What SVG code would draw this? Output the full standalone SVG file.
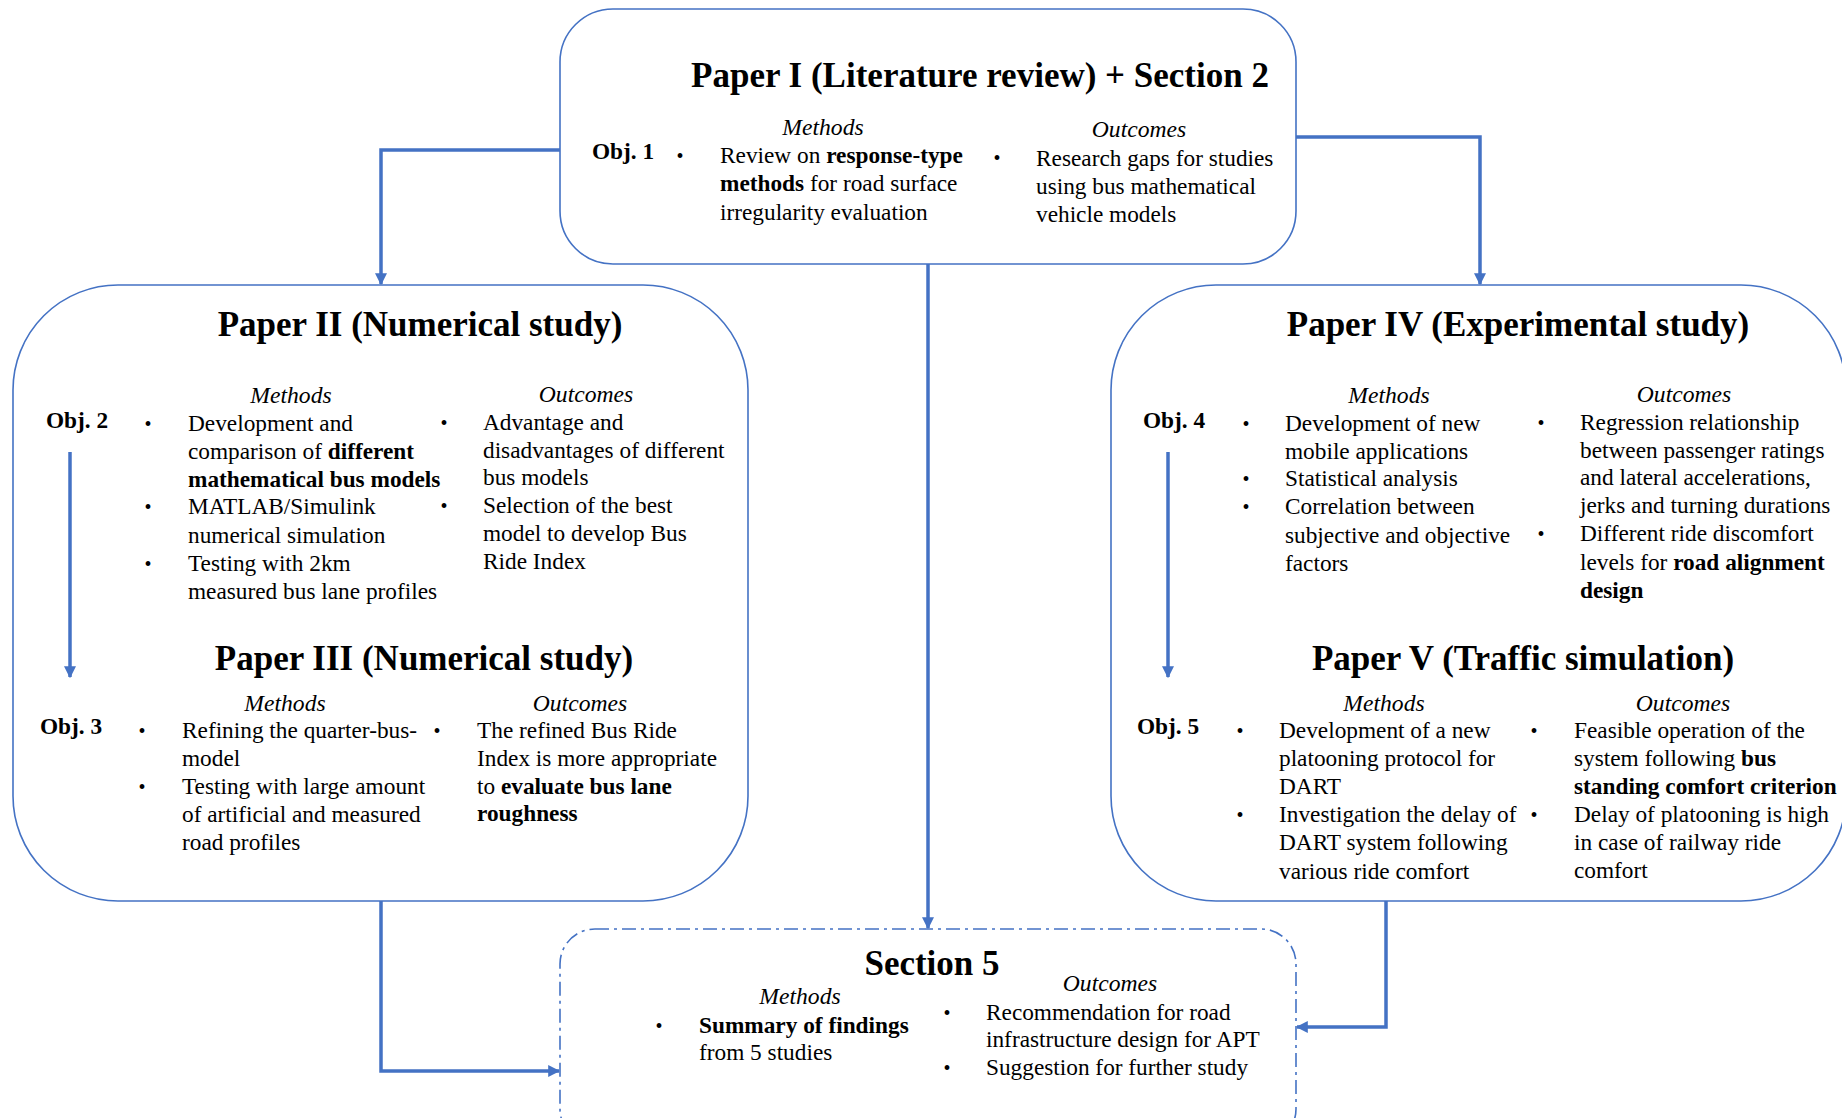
<svg xmlns="http://www.w3.org/2000/svg" width="1842" height="1118" viewBox="0 0 1842 1118">
<style>
.box{fill:#fff;stroke:#4472C4;stroke-width:1.6}
.dash{stroke-dasharray:14 5 3 5}
.c{fill:none;stroke:#4472C4;stroke-width:3.5}
text{font-family:"Liberation Serif","Times New Roman",serif;fill:#000}
.t{font-size:35px;font-weight:bold;text-anchor:middle}
.h{font-size:23.6px;font-style:italic;text-anchor:middle}
.o{font-size:23.3px;font-weight:bold}
.b{font-size:23.3px}
.bu{font-size:20px;text-anchor:middle}
.s{font-weight:bold}
</style>
<defs>
<marker id="ah" viewBox="0 0 10 10" refX="9" refY="5" markerWidth="12" markerHeight="12" markerUnits="userSpaceOnUse" orient="auto">
<path d="M0,0 L10,5 L0,10 z" fill="#4472C4"/>
</marker>
</defs>
<g id="connectors">
<path class="c" d="M560,150 H381 V284" marker-end="url(#ah)"/>
<path class="c" d="M1296,137 H1480 V284" marker-end="url(#ah)"/>
<path class="c" d="M928,264 V928" marker-end="url(#ah)"/>
<path class="c" d="M381,901 V1071 H559" marker-end="url(#ah)"/>
<path class="c" d="M1386,901 V1027 H1297" marker-end="url(#ah)"/>
</g>
<g id="paper1">
<rect class="box" x="560" y="9" width="736" height="255" rx="53"/>
<text class="t" x="980" y="87">Paper I (Literature review) + Section 2</text>
<text class="h" x="823" y="135">Methods</text>
<text class="h" x="1139" y="137">Outcomes</text>
<text class="o" x="592" y="159">Obj. 1</text>
<text class="bu" x="680" y="163">•</text>
<text class="b" x="720" y="163">Review on <tspan class="s">response-type</tspan></text>
<text class="b" x="720" y="191"><tspan class="s">methods</tspan> for road surface</text>
<text class="b" x="720" y="220">irregularity  evaluation</text>
<text class="bu" x="997" y="165">•</text>
<text class="b" x="1036" y="166">Research gaps for studies</text>
<text class="b" x="1036" y="194">using bus mathematical</text>
<text class="b" x="1036" y="222">vehicle models</text>
</g>
<g id="paper2-3">
<rect class="box" x="13" y="285" width="735" height="616" rx="105"/>
<text class="t" x="420" y="336">Paper II (Numerical study)</text>
<text class="h" x="291" y="403">Methods</text>
<text class="h" x="586" y="402">Outcomes</text>
<text class="o" x="46" y="428">Obj. 2</text>
<text class="bu" x="148" y="431">•</text>
<text class="bu" x="148" y="514">•</text>
<text class="bu" x="148" y="571">•</text>
<text class="b" x="188" y="431">Development and</text>
<text class="b" x="188" y="459">comparison of <tspan class="s">different</tspan></text>
<text class="b s" x="188" y="487">mathematical bus models</text>
<text class="b" x="188" y="514">MATLAB/Simulink</text>
<text class="b" x="188" y="543">numerical simulation</text>
<text class="b" x="188" y="571">Testing  with 2km</text>
<text class="b" x="188" y="599">measured bus lane profiles</text>
<text class="bu" x="444" y="430">•</text>
<text class="bu" x="444" y="513">•</text>
<text class="b" x="483" y="430">Advantage and</text>
<text class="b" x="483" y="458">disadvantages of different</text>
<text class="b" x="483" y="485">bus models</text>
<text class="b" x="483" y="513">Selection of the best</text>
<text class="b" x="483" y="541">model to develop Bus</text>
<text class="b" x="483" y="569">Ride Index</text>
<path class="c" d="M70,452 V677" marker-end="url(#ah)"/>
<text class="t" x="424" y="670">Paper III (Numerical study)</text>
<text class="h" x="285" y="711">Methods</text>
<text class="h" x="580" y="711">Outcomes</text>
<text class="o" x="40" y="734">Obj. 3</text>
<text class="bu" x="142" y="738">•</text>
<text class="bu" x="142" y="794">•</text>
<text class="b" x="182" y="738">Refining the quarter-bus-</text>
<text class="b" x="182" y="766">model</text>
<text class="b" x="182" y="794">Testing with large amount</text>
<text class="b" x="182" y="822">of artificial  and measured</text>
<text class="b" x="182" y="850">road profiles</text>
<text class="bu" x="437" y="738">•</text>
<text class="b" x="477" y="738">The refined Bus Ride</text>
<text class="b" x="477" y="766">Index is more appropriate</text>
<text class="b" x="477" y="794">to <tspan class="s">evaluate bus lane</tspan></text>
<text class="b s" x="477" y="821">roughness</text>
</g>
<g id="paper4-5">
<rect class="box" x="1111" y="285" width="735" height="616" rx="105"/>
<text class="t" x="1518" y="336">Paper IV (Experimental study)</text>
<text class="h" x="1389" y="403">Methods</text>
<text class="h" x="1684" y="402">Outcomes</text>
<text class="o" x="1143" y="428">Obj. 4</text>
<text class="bu" x="1246" y="431">•</text>
<text class="bu" x="1246" y="486">•</text>
<text class="bu" x="1246" y="514">•</text>
<text class="b" x="1285" y="431">Development of new</text>
<text class="b" x="1285" y="459">mobile applications</text>
<text class="b" x="1285" y="486">Statistical analysis</text>
<text class="b" x="1285" y="514">Correlation between</text>
<text class="b" x="1285" y="543">subjective and objective</text>
<text class="b" x="1285" y="571">factors</text>
<text class="bu" x="1541" y="430">•</text>
<text class="bu" x="1541" y="541">•</text>
<text class="b" x="1580" y="430">Regression relationship</text>
<text class="b" x="1580" y="458">between passenger ratings</text>
<text class="b" x="1580" y="485">and lateral  accelerations,</text>
<text class="b" x="1580" y="513">jerks and turning durations</text>
<text class="b" x="1580" y="541">Different ride discomfort</text>
<text class="b" x="1580" y="570">levels  for <tspan class="s">road alignment</tspan></text>
<text class="b s" x="1580" y="598">design</text>
<path class="c" d="M1168,452 V677" marker-end="url(#ah)"/>
<text class="t" x="1523" y="670">Paper V (Traffic simulation)</text>
<text class="h" x="1384" y="711">Methods</text>
<text class="h" x="1683" y="711">Outcomes</text>
<text class="o" x="1137" y="734">Obj. 5</text>
<text class="bu" x="1240" y="738">•</text>
<text class="bu" x="1240" y="822">•</text>
<text class="b" x="1279" y="738">Development of a new</text>
<text class="b" x="1279" y="766">platooning protocol for</text>
<text class="b" x="1279" y="794">DART</text>
<text class="b" x="1279" y="822">Investigation the delay of</text>
<text class="b" x="1279" y="850">DART system following</text>
<text class="b" x="1279" y="879">various ride comfort</text>
<text class="bu" x="1534" y="738">•</text>
<text class="bu" x="1534" y="822">•</text>
<text class="b" x="1574" y="738">Feasible operation of the</text>
<text class="b" x="1574" y="766">system following <tspan class="s">bus</tspan></text>
<text class="b s" x="1574" y="794">standing comfort criterion</text>
<text class="b" x="1574" y="822">Delay of platooning is high</text>
<text class="b" x="1574" y="850">in case of railway  ride</text>
<text class="b" x="1574" y="878">comfort</text>
</g>
<g id="section5">
<rect class="box dash" x="560" y="929" width="736" height="215" rx="35"/>
<text class="t" x="932" y="975">Section 5</text>
<text class="h" x="800" y="1004">Methods</text>
<text class="h" x="1110" y="991">Outcomes</text>
<text class="bu" x="659" y="1033">•</text>
<text class="b s" x="699" y="1033">Summary of findings</text>
<text class="b" x="699" y="1060">from 5 studies</text>
<text class="bu" x="947" y="1020">•</text>
<text class="bu" x="947" y="1075">•</text>
<text class="b" x="986" y="1020">Recommendation for road</text>
<text class="b" x="986" y="1047">infrastructure design for APT</text>
<text class="b" x="986" y="1075">Suggestion for further study</text>
</g>
</svg>
